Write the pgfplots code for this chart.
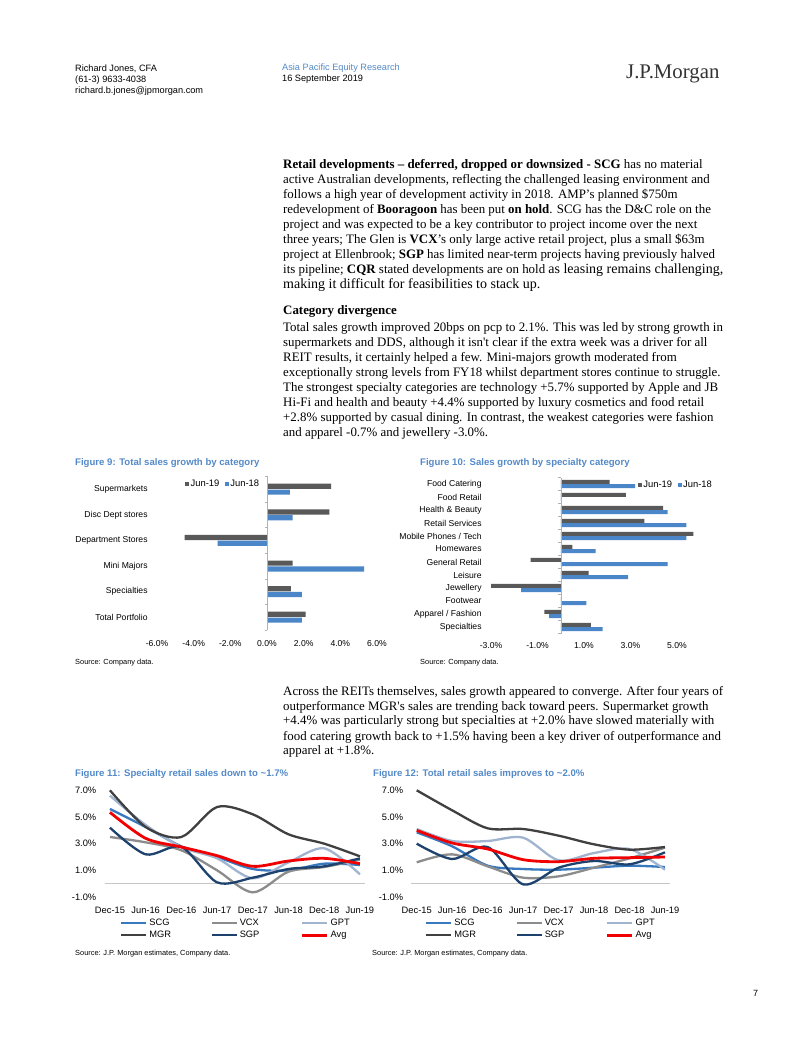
\documentclass[border=0pt]{standalone}
\usepackage{pgfplots}
\pgfplotsset{compat=1.18}
\usepackage{fontspec}
\setmainfont{Liberation Serif}
\newfontfamily\arial{Liberation Sans}
\definecolor{ttl}{RGB}{84,138,200}
\definecolor{barg}{RGB}{89,89,89}
\definecolor{barb}{RGB}{74,134,200}
\definecolor{cSCG}{RGB}{55,120,190}
\definecolor{cVCX}{RGB}{140,140,140}
\definecolor{cGPT}{RGB}{160,180,208}
\definecolor{cMGR}{RGB}{64,64,64}
\definecolor{cSGP}{RGB}{30,66,110}
\definecolor{cAvg}{RGB}{240,0,0}
\newcommand\fs[1]{\fontsize{#1}{#1}\selectfont}
\pgfplotsset{
  sqlegend/.style={legend image code/.code={\fill[##1] (0pt,-2pt) rectangle (4pt,2pt);}},
  linelegend/.style={legend image code/.code={\draw[##1] (0pt,0pt) -- (25pt,0pt);}},
  barax/.style={scale only axis, anchor=south west, xbar,
    axis line style={draw=none}, major tick length=0pt, tick style={draw=none},
    ticklabel style={font=\arial\fs{8.6}}, clip=false,
    yticklabel style={xshift=-5.9pt},
    legend columns=2,
    legend style={draw=none, fill=none, inner sep=0pt, font=\arial\fs{9.4}, anchor=west,
      nodes={inner sep=1.5pt}, /tikz/every even column/.append style={column sep=4pt}}},
  linax/.style={scale only axis, anchor=south west,
    axis line style={draw=none}, major tick length=0pt, tick style={draw=none},
    ticklabel style={font=\arial\fs{9.3}}, clip=false,
    xmin=-0.15, xmax=7.15, ymin=-1, ymax=7,
    ytick={-1,1,3,5,7}, yticklabels={-1.0\%,1.0\%,3.0\%,5.0\%,7.0\%},
    xtick={0,...,7}, xticklabels={Dec-15,Jun-16,Dec-16,Jun-17,Dec-17,Jun-18,Dec-18,Jun-19},
    xticklabel style={yshift=-6.6pt}, yticklabel style={xshift=-4.8pt},
    legend columns=3,
    legend style={draw=none, fill=none, inner sep=0pt, anchor=north west, font=\arial\fs{9.3},
      nodes={inner sep=2pt}, cells={anchor=west},
      /tikz/every even column/.append style={column sep=0pt}},
    every axis plot/.append style={smooth, tension=0.5, no markers, line width=2.3pt, linelegend}},
}
\newcommand\bl[2]{\node[anchor=base west,inner sep=0pt,font=\fs{12.9}] at (283pt,-#1pt) {#2};}
\begin{document}
\begin{tikzpicture}
\path[use as bounding box, fill=white] (0pt,0pt) rectangle (802pt,-1037pt);
% header
\node[anchor=base west,inner sep=0pt,font=\arial\fs{9.2}] at (75pt,-71pt) {Richard Jones, CFA};
\node[anchor=base west,inner sep=0pt,font=\arial\fs{9.2}] at (75pt,-82.3pt) {(61-3) 9633-4038};
\node[anchor=base west,inner sep=0pt,font=\arial\fs{9.2}] at (75pt,-93.5pt) {richard.b.jones@jpmorgan.com};
\node[anchor=base west,inner sep=0pt,font=\arial\fs{9.2},text=ttl] at (282pt,-70.5pt) {Asia Pacific Equity Research};
\node[anchor=base west,inner sep=0pt,font=\arial\fs{9.2}] at (282pt,-81.8pt) {16 September 2019};
\node[anchor=base west,inner sep=0pt,font=\fs{20.8},text=black!80] at (626pt,-78.5pt) {J.P.Morgan};
% paragraph 1
\bl{168}{\textbf{Retail developments – deferred, dropped or downsized - SCG} has no material}
\bl{183.05}{active Australian developments, reflecting the challenged leasing environment and}
\bl{198.1}{follows a high year of development activity in 2018. AMP’s planned \$750m}
\bl{213.15}{redevelopment of \textbf{Booragoon} has been put \textbf{on hold}. SCG has the D\&C role on the}
\bl{228.2}{project and was expected to be a key contributor to project income over the next}
\bl{243.25}{three years; The Glen is \textbf{VCX}’s only large active retail project, plus a small \$63m}
\bl{258.3}{project at Ellenbrook; \textbf{SGP} has limited near-term projects having previously halved}
\bl{273.35}{its pipeline; \textbf{CQR} stated developments are on hold {\fs{14}as leasing remains challenging,}}
\bl{288.4}{{\fs{14}making it difficult for feasibilities to stack up.}}
% paragraph 2
\bl{314}{\textbf{Category divergence}}
\bl{331.3}{Total sales growth improved 20bps on pcp to 2.1\%. This was led by strong growth in}
\bl{346.3}{supermarkets and DDS, although it isn\textquotesingle t clear if the extra week was a driver for all}
\bl{361.3}{REIT results, it certainly helped a few. Mini-majors growth moderated from}
\bl{376.3}{exceptionally strong levels from FY18 whilst department stores continue to struggle.}
\bl{391.3}{The strongest specialty categories are technology +5.7\% supported by Apple and JB}
\bl{406.3}{Hi-Fi and health and beauty +4.4\% supported by luxury cosmetics and food retail}
\bl{421.3}{+2.8\% supported by casual dining. In contrast, the weakest categories were fashion}
\bl{436.3}{and apparel -0.7\% and jewellery -3.0\%.}
% paragraph 3
\bl{695}{Across the REITs themselves, sales growth appeared to converge. After four years of}
\bl{710}{outperformance MGR\textquotesingle s sales are trending back toward peers. Supermarket growth}
\bl{724.7}{+4.4\% was particularly strong but specialties at +2.0\% have slowed materially with}
\bl{740}{food catering growth back to +1.5\% having been a key driver of outperformance and}
\bl{754.7}{apparel at +1.8\%.}
% titles and sources
\node[anchor=base west,inner sep=0pt,font=\arial\bfseries\fs{9.6},text=ttl] at (75pt,-465.5pt) {Figure 9: Total sales growth by category};
\node[anchor=base west,inner sep=0pt,font=\arial\bfseries\fs{9.6},text=ttl] at (420pt,-465.5pt) {Figure 10: Sales growth by specialty category};
\node[anchor=base west,inner sep=0pt,font=\arial\bfseries\fs{9.6},text=ttl] at (75pt,-776.5pt) {Figure 11: Specialty retail sales down to \textasciitilde 1.7\%};
\node[anchor=base west,inner sep=0pt,font=\arial\bfseries\fs{9.6},text=ttl] at (373pt,-776.5pt) {Figure 12: Total retail sales improves to \textasciitilde 2.0\%};
\node[anchor=base west,inner sep=0pt,font=\arial\fs{7.4}] at (75pt,-664.5pt) {Source: Company data.};
\node[anchor=base west,inner sep=0pt,font=\arial\fs{7.4}] at (420pt,-664.5pt) {Source: Company data.};
\node[anchor=base west,inner sep=0pt,font=\arial\fs{7.4}] at (75pt,-955pt) {Source: J.P. Morgan estimates, Company data.};
\node[anchor=base west,inner sep=0pt,font=\arial\fs{7.4}] at (372pt,-955pt) {Source: J.P. Morgan estimates, Company data.};
\node[anchor=base west,inner sep=0pt,font=\arial\fs{9}] at (753pt,-996pt) {7};
% Figure 9
\begin{axis}[barax, at={(157pt,-630pt)}, width=220pt, height=153.6pt,
  xmin=-6, xmax=6, ymin=-0.5, ymax=5.5,
  xtick={-6,-4,...,6}, xticklabels={-6.0\%,-4.0\%,-2.0\%,0.0\%,2.0\%,4.0\%,6.0\%},
  ytick={0,...,5}, yticklabels={Total Portfolio,Specialties,Mini Majors,Department Stores,Disc Dept stores,Supermarkets},
  xticklabel style={yshift=-6.8pt},
  legend style={at={(0.127,0.952)}}]
\addplot[fill=barg, draw=none, bar width=5.2pt, bar shift=2.9pt, sqlegend] coordinates {(2.1,0) (1.3,1) (1.4,2) (-4.5,3) (3.4,4) (3.5,5)};
\addplot[fill=barb, draw=none, bar width=5.2pt, bar shift=-2.9pt, sqlegend] coordinates {(1.9,0) (1.9,1) (5.3,2) (-2.7,3) (1.4,4) (1.25,5)};
\legend{Jun-19,Jun-18}
\draw[gray!60] (axis cs:0,-0.5) -- (axis cs:0,5.5);
\pgfplotsinvokeforeach{-0.5,0.5,...,5.5}{\draw[gray!60] (axis cs:0,#1) -- ++(-2.5pt,0pt);}
\end{axis}
% Figure 10
\begin{axis}[barax, at={(491pt,-633.5pt)}, width=209.25pt, height=156pt,
  xmin=-3, xmax=6, ymin=-0.5, ymax=11.5,
  xtick={-3,-1,...,5}, xticklabels={-3.0\%,-1.0\%,1.0\%,3.0\%,5.0\%},
  ytick={0,...,11}, yticklabels={Specialties,Apparel / Fashion,Footwear,Jewellery,Leisure,General Retail,Homewares,Mobile Phones / Tech,Retail Services,Health \& Beauty,Food Retail,Food Catering},
  xticklabel style={yshift=-5.6pt},
  legend style={at={(0.701,0.952)}}]
\addplot[fill=barg, draw=none, bar width=4pt, bar shift=2.1pt, sqlegend] coordinates {(1.3,0) (-0.7,1) (0,2) (-3.0,3) (1.2,4) (-1.3,5) (0.5,6) (5.7,7) (3.6,8) (4.4,9) (2.8,10) (2.1,11)};
\addplot[fill=barb, draw=none, bar width=4pt, bar shift=-2.1pt, sqlegend] coordinates {(1.8,0) (-0.5,1) (1.1,2) (-1.7,3) (2.9,4) (4.6,5) (1.5,6) (5.4,7) (5.4,8) (4.6,9) (0.05,10) (3.2,11)};
\legend{Jun-19,Jun-18}
\draw[gray!60] (axis cs:0,-0.5) -- (axis cs:0,11.5);
\pgfplotsinvokeforeach{-0.5,0.5,...,11.5}{\draw[gray!60] (axis cs:0,#1) -- ++(-2.5pt,0pt);}
\end{axis}
% Figure 11
\begin{axis}[linax, at={(104.6pt,-897pt)}, width=260.7pt, height=106.7pt,
  legend style={at={(0.059,-0.187)}}]
\draw[gray!45, line width=0.7pt] (axis cs:-0.15,0) -- (axis cs:7.15,0);
\addplot[cSCG] coordinates {(0,5.6) (1,4.25) (2,2.8) (3,2.0) (4,1.1) (5,1.0) (6,1.5) (7,1.4)};
\addplot[cVCX] coordinates {(0,3.5) (1,3.1) (2,2.5) (3,1.0) (4,-0.65) (5,0.9) (6,1.25) (7,1.8)};
\addplot[cGPT] coordinates {(0,6.6) (1,4.4) (2,2.75) (3,1.9) (4,0.4) (5,1.6) (6,2.65) (7,0.7)};
\addplot[cMGR] coordinates {(0,7.0) (1,4.25) (2,3.5) (3,5.75) (4,5.2) (5,3.7) (6,3.0) (7,2.05)};
\addplot[cSGP] coordinates {(0,4.2) (1,2.2) (2,2.75) (3,0.1) (4,0.45) (5,1.1) (6,1.3) (7,1.9)};
\addplot[cAvg, line width=2.8pt] coordinates {(0,5.35) (1,3.4) (2,2.75) (3,2.1) (4,1.3) (5,1.7) (6,1.9) (7,1.5)};
\legend{\makebox[59pt][l]{SCG},\makebox[59pt][l]{VCX},\makebox[59pt][l]{GPT},\makebox[59pt][l]{MGR},\makebox[59pt][l]{SGP},\makebox[59pt][l]{Avg}}
\end{axis}
% Figure 12
\begin{axis}[linax, at={(411.4pt,-897pt)}, width=258.9pt, height=106.7pt,
  legend style={at={(0.0525,-0.187)}}]
\draw[gray!45, line width=0.7pt] (axis cs:-0.15,0) -- (axis cs:7.15,0);
\addplot[cSCG] coordinates {(0,3.85) (1,2.8) (2,1.35) (3,1.1) (4,1.05) (5,1.2) (6,1.35) (7,1.25)};
\addplot[cVCX] coordinates {(0,1.6) (1,2.2) (2,1.3) (3,0.45) (4,0.55) (5,1.2) (6,1.9) (7,2.7)};
\addplot[cGPT] coordinates {(0,4.1) (1,3.2) (2,3.2) (3,3.45) (4,1.75) (5,2.3) (6,2.6) (7,1.05)};
\addplot[cMGR] coordinates {(0,7.0) (1,5.5) (2,4.15) (3,4.1) (4,3.6) (5,2.95) (6,2.55) (7,2.75)};
\addplot[cSGP] coordinates {(0,3.0) (1,1.85) (2,2.75) (3,-0.05) (4,1.2) (5,1.7) (6,1.45) (7,2.35)};
\addplot[cAvg, line width=2.8pt] coordinates {(0,4.0) (1,3.05) (2,2.6) (3,1.8) (4,1.65) (5,1.9) (6,1.95) (7,2.0)};
\legend{\makebox[59pt][l]{SCG},\makebox[59pt][l]{VCX},\makebox[59pt][l]{GPT},\makebox[59pt][l]{MGR},\makebox[59pt][l]{SGP},\makebox[59pt][l]{Avg}}
\end{axis}
\end{tikzpicture}
\end{document}
